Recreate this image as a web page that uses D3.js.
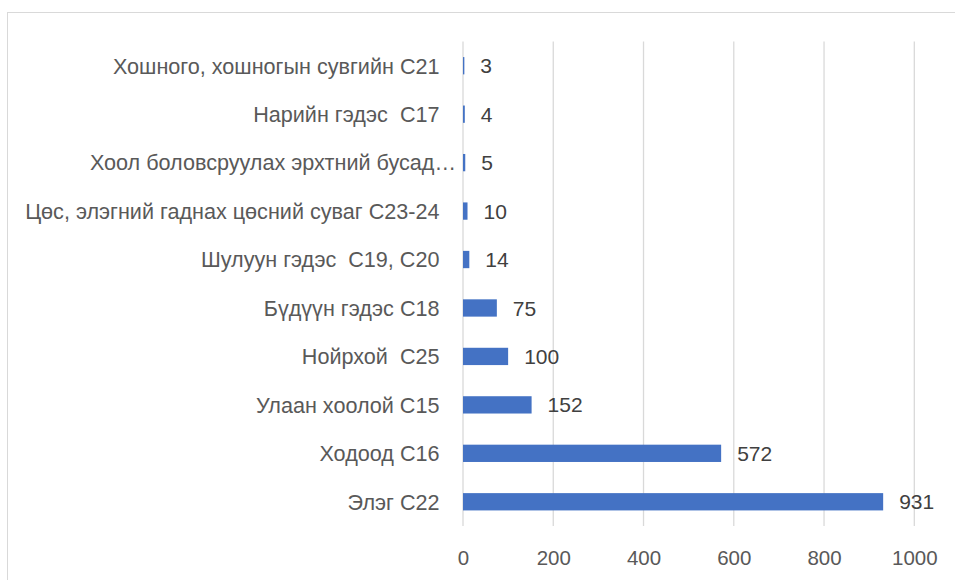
<!DOCTYPE html>
<html>
<head>
<meta charset="utf-8">
<script src="https://cdn.jsdelivr.net/npm/d3@7"></script>
<style>
  html, body { margin: 0; padding: 0; background: #fff; }
  svg { display: block; }
  text { font-family: "Liberation Sans", Arial, sans-serif; white-space: pre; }
</style>
</head>
<body>
<svg id="chart" width="955" height="580"></svg>
<script>
// Cancer cases by digestive-organ site (ICD-10 codes), top to bottom
const categories = [
  "Хошного, хошногын сувгийн C21",
  "Нарийн гэдэс  C17",
  "Хоол боловсруулах эрхтний бусад…",
  "Цөс, элэгний гаднах цөсний суваг C23-24",
  "Шулуун гэдэс  C19, C20",
  "Бүдүүн гэдэс C18",
  "Нойрхой  C25",
  "Улаан хоолой C15",
  "Ходоод C16",
  "Элэг C22"
];
const values = [3, 4, 5, 10, 14, 75, 100, 152, 572, 931];
const tickValues = [0, 200, 400, 600, 800, 1000];

const svg = d3.select("#chart");

// Outer chart frame
svg.append("rect")
  .attr("x", 7.5).attr("y", 12.5)
  .attr("width", 960).attr("height", 580)
  .attr("fill", "none").attr("stroke", "#d9d9d9").attr("stroke-width", 1);

const x = d3.scaleLinear().domain([0, 1000]).range([463, 914.3]);
const y = d3.scaleBand().domain(categories).range([41.5, 526])
  .paddingInner(0.643).paddingOuter(0.3215);

// Vertical gridlines
svg.append("g")
  .selectAll("line")
  .data(tickValues)
  .join("line")
  .attr("x1", d => x(d)).attr("x2", d => x(d))
  .attr("y1", 41.5).attr("y2", 526)
  .attr("stroke", "#d9d9d9").attr("stroke-width", 1.3);

// Bottom axis labels
const xAxis = d3.axisBottom(x).tickValues(tickValues).tickSize(0).tickPadding(0)
  .tickFormat(d3.format("d"));
const gx = svg.append("g").attr("transform", "translate(0,550)").call(xAxis);
gx.select(".domain").remove();
gx.selectAll("text")
  .attr("fill", "#595959")
  .style("font-size", "20.5px")
  .attr("font-family", "Liberation Sans, Arial, sans-serif");

// Category labels
const gy = svg.append("g");
gy.selectAll("text")
  .data(categories)
  .join("text")
  .attr("x", d => d.endsWith("…") ? 456 : 439.5)
  .attr("y", d => y(d) + y.bandwidth() / 2)
  .attr("dy", "0.36em")
  .attr("text-anchor", "end")
  .attr("fill", "#595959")
  .style("font-size", "21.6px")
  .text(d => d);

// Bars
svg.append("g")
  .selectAll("rect")
  .data(values)
  .join("rect")
  .attr("x", x(0))
  .attr("y", (d, i) => y(categories[i]))
  .attr("width", d => x(d) - x(0))
  .attr("height", y.bandwidth())
  .attr("fill", "#4472c4");

// Value labels
svg.append("g")
  .selectAll("text")
  .data(values)
  .join("text")
  .attr("x", d => x(d) + 16)
  .attr("y", (d, i) => y(categories[i]) + y.bandwidth() / 2)
  .attr("dy", "0.36em")
  .attr("fill", "#404040")
  .style("font-size", "21px")
  .text(d => d);
</script>
</body>
</html>
